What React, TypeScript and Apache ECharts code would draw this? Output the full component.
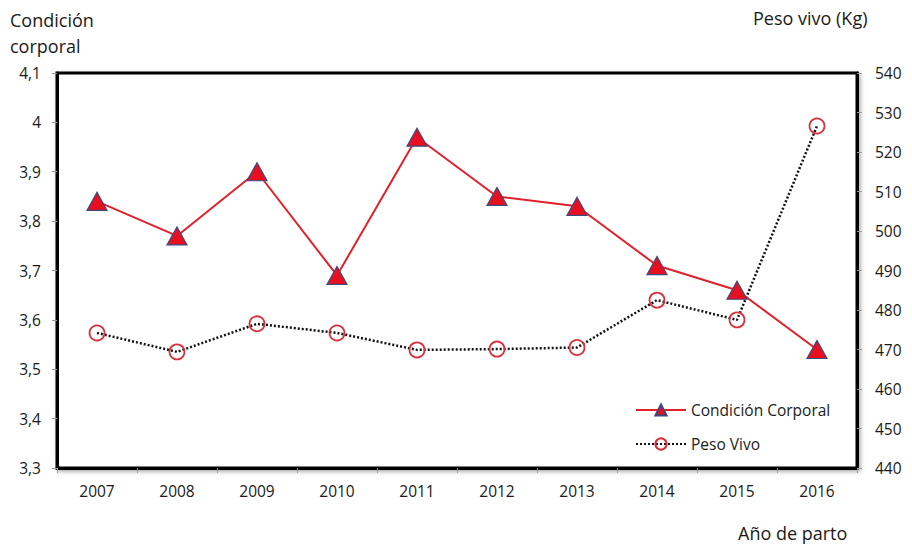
import React, { useEffect, useRef } from "react";
import * as echarts from "echarts";

const years = ["2007", "2008", "2009", "2010", "2011", "2012", "2013", "2014", "2015", "2016"];
const condicionCorporal = [3.84, 3.77, 3.9, 3.69, 3.97, 3.85, 3.83, 3.71, 3.66, 3.54];
const pesoVivo = [474.2, 469.4, 476.5, 474.2, 469.9, 470.1, 470.5, 482.5, 477.5, 526.6];

const FONT = "Open Sans";

export default function App() {
  const ref = useRef<HTMLDivElement>(null);
  useEffect(() => {
    if (!ref.current) return;
    const chart = echarts.init(ref.current, undefined, { renderer: "svg" });
    chart.setOption({
      animation: false,
      backgroundColor: "#ffffff",
      textStyle: { fontFamily: FONT },
      grid: {
        left: 57,
        right: 55,
        top: 73,
        bottom: 81,
        show: true,
        backgroundColor: "#ffffff",
        borderColor: "#000000",
        borderWidth: 3,
        shadowColor: "rgba(0,0,0,0.35)",
        shadowBlur: 4,
        shadowOffsetX: 2,
        shadowOffsetY: 2,
      },
      legend: {
        orient: "vertical",
        left: 630,
        top: 397,
        itemWidth: 50,
        itemHeight: 14,
        itemGap: 18,
        textStyle: { fontFamily: FONT, fontSize: 15.5, color: "#1a1a1a" },
        data: ["Condición Corporal", "Peso Vivo"],
      },
      xAxis: {
        type: "category",
        data: years,
        boundaryGap: true,
        axisLine: { show: true, lineStyle: { color: "#000", width: 3 } },
        axisTick: { show: true, length: 5, lineStyle: { color: "#999" } },
        axisLabel: { color: "#1a1a1a", fontSize: 15.5, margin: 15, fontFamily: FONT },
        splitLine: { show: false },
      },
      yAxis: [
        {
          type: "value",
          min: 3.3,
          max: 4.1,
          interval: 0.1,
          position: "left",
          axisLine: { show: true, lineStyle: { color: "#000", width: 3 } },
          axisTick: { show: true, length: 5, lineStyle: { color: "#999" } },
          splitLine: { show: false },
          axisLabel: {
            color: "#1a1a1a",
            fontSize: 15.5,
            margin: 16,
            fontFamily: FONT,
            formatter: (v: number) => {
              const r = Math.round(v * 10) / 10;
              return Number.isInteger(r) ? String(r) : r.toFixed(1).replace(".", ",");
            },
          },
        },
        {
          type: "value",
          min: 440,
          max: 540,
          interval: 10,
          position: "right",
          axisLine: { show: true, lineStyle: { color: "#000", width: 3 } },
          axisTick: { show: true, length: 5, lineStyle: { color: "#999" } },
          splitLine: { show: false },
          axisLabel: { color: "#1a1a1a", fontSize: 15.5, margin: 18, fontFamily: FONT },
        },
      ],
      series: [
        {
          name: "Condición Corporal",
          type: "line",
          yAxisIndex: 0,
          data: condicionCorporal,
          symbol: "triangle",
          symbolSize: [20, 18],
          lineStyle: { color: "#e2202c", width: 2 },
          itemStyle: { color: "#e8101e", borderColor: "#3d4a80", borderWidth: 1.2 },
          z: 3,
        },
        {
          name: "Peso Vivo",
          type: "line",
          yAxisIndex: 1,
          data: pesoVivo,
          symbol: "circle",
          symbolSize: 15,
          lineStyle: { color: "#111111", width: 2.5, type: [2, 2] },
          itemStyle: { color: "rgba(255,255,255,0)", borderColor: "#d8303c", borderWidth: 1.8 },
          z: 2,
        },
      ],
      graphic: [
        {
          type: "text",
          left: 10,
          top: 7,
          style: {
            text: "Condición\ncorporal",
            fontFamily: FONT,
            fontSize: 18,
            lineHeight: 26,
            fill: "#1a1a1a",
          },
        },
        {
          type: "text",
          left: 753,
          top: 9,
          style: { text: "Peso vivo (Kg)", fontFamily: FONT, fontSize: 18, fill: "#1a1a1a" },
        },
        {
          type: "text",
          left: 738,
          top: 524,
          style: { text: "Año de parto", fontFamily: FONT, fontSize: 18, fill: "#1a1a1a" },
        },
      ],
    });
    return () => chart.dispose();
  }, []);
  return <div ref={ref} style={{ width: 912, height: 549, position: "absolute", left: 0, top: 0 }} />;
}
